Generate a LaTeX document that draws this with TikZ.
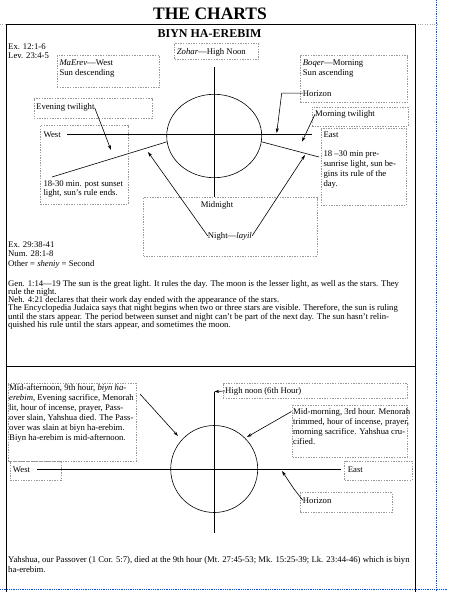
\documentclass[tikz,border=0pt]{standalone}
\usepackage{fontspec}
\setmainfont{Liberation Serif}
\usetikzlibrary{arrows.meta,shapes.geometric}

\begin{document}
\begin{tikzpicture}[x=1pt, y=-1pt, >={Stealth[length=5pt,width=3.2pt]},
    txt/.style={inner sep=0pt, font=\fontsize{8.7}{10.2}\selectfont, align=left},
    dbox/.style={draw=gray!80, dash pattern=on 1.4pt off 1.2pt, line width=0.5pt, inner sep=0pt, anchor=north west},
    axis/.style={line width=0.8pt},
    arr/.style={->, line width=0.6pt},
    conn/.style={line width=0.6pt},
    frame/.style={line width=0.9pt}]
    \useasboundingbox[fill=white] (0,0) rectangle (448,592);

    % page guides
    \draw[gray!70, dotted] (0,24.3) -- (437,24.3);
    \draw[blue!70!cyan, densely dotted, line width=0.8pt] (436.5,0) -- (436.5,592);
    \draw[blue!70!cyan, densely dotted, line width=0.8pt] (0,589) -- (448,589);

    % frame
    \draw[frame] (6,592) -- (6,24.3) -- (415,24.3) -- (415,592);
    \draw[frame] (6,366) -- (415,366);

    \node[inner sep=0pt, font=\fontsize{17.5}{20}\selectfont\bfseries, anchor=base] (title) at (210,19) {THE CHARTS};
    \node[inner sep=0pt, font=\fontsize{12}{14}\selectfont\bfseries, anchor=base] (sub1) at (209.5,37.3) {BIYN HA-EREBIM};

    % upper chart: boxes
    \node[dbox, minimum width=84, minimum height=16] (zohbox) at (174.3,43.3) {};
    \node[dbox, minimum width=102.6, minimum height=32] (erevbox) at (56.7,55.3) {};
    \node[dbox, minimum width=107.3, minimum height=46.7] (boqbox) at (300,55.3) {};
    \node[dbox, minimum width=118, minimum height=20] (evebox) at (33.7,98.3) {};
    \node[dbox, minimum width=96, minimum height=19] (mtwbox) at (312,106.5) {};
    \node[dbox, minimum width=87.7, minimum height=79] (westbox) at (40,125.3) {};
    \node[dbox, minimum width=85.5, minimum height=77.3] (eastbox) at (320.5,127.7) {};
    \node[dbox, minimum width=173.4, minimum height=58.4] (midbox) at (143.3,197.3) {};

    % upper chart: texts
    \node[txt, anchor=north west, font=\fontsize{8.7}{9}\selectfont] (refs1) at (8,43.3) {Ex. 12:1-6\\Lev. 23:4-5};
    \node[txt, anchor=base west] (zohar) at (176.7,54) {\textit{Zohar}—High Noon};
    \node[txt, anchor=north west, font=\fontsize{8.7}{10.4}\selectfont] (erev) at (59.3,59.3) {\textit{MaErev}—West\\Sun descending};
    \node[txt, anchor=north west, font=\fontsize{8.7}{10.4}\selectfont] (boqer) at (302.7,59.3) {\textit{Boqer}—Morning\\Sun ascending};
    \node[txt, anchor=base west] (hor1) at (302.7,96) {Horizon};
    \node[txt, anchor=base west] (eve) at (36,109.7) {Evening twilight};
    \node[txt, anchor=base west] (mtw) at (315,116.3) {Morning twilight};
    \node[txt, anchor=base west] (west1) at (43.3,137.3) {West};
    \node[txt, anchor=north west, font=\fontsize{8.7}{9.4}\selectfont] (post) at (43.3,180.3) {18-30 min. post sunset\\light, sun's rule ends.};
    \node[txt, anchor=base west] (east1) at (323.3,137.3) {East};
    \node[txt, anchor=north west, font=\fontsize{8.7}{10}\selectfont] (pre) at (323.3,151) {18 –30 min pre-\\sunrise light, sun be-\\gins its rule of the\\day.};
    \node[txt, anchor=base] (midn) at (217,207) {Midnight};
    \node[txt, anchor=base west] (night) at (207.7,238) {Night—\textit{layil}};
    \node[txt, anchor=north west, font=\fontsize{8.7}{9.2}\selectfont] (refs2) at (8,241.7) {Ex. 29:38-41\\Num. 28:1-8\\Other = \textit{sheniy} = Second};
    \node[txt, anchor=north west, font=\fontsize{8.7}{8.2}\selectfont] (para) at (8,280) {Gen. 1:14—19 The sun is the great light. It rules the day. The moon is the lesser light, as well as the stars. They\\rule the night.\\Neh. 4:21 declares that their work day ended with the appearance of the stars.\\The Encyclopedia Judaica says that night begins when two or three stars are visible. Therefore, the sun is ruling\\until the stars appear. The period between sunset and night can't be part of the next day. The sun hasn't relin-\\quished his rule until the stars appear, and sometimes the moon.};

    % upper chart: sun and axes
    \node[draw, ellipse, minimum width=95, minimum height=83.4, line width=0.6pt] (sun1) at (214.2,136) {};
    \coordinate (ntop) at (214.3,67);
    \coordinate (nbot) at (214.3,197.3);
    \coordinate (wend) at (67,134.7);
    \coordinate (eend) at (312,134.7);
    \draw[axis] (ntop) -- (nbot);
    \draw[axis] (wend) -- (eend);
    \coordinate (postend) at (52,177);
    \coordinate (preend) at (319,157);
    \draw[conn] (sun1.187) -- (postend);
    \draw[conn] (sun1.353) -- (preend);

    % upper chart: arrows
    \coordinate (evetip) at (111,150);
    \coordinate (mtwtip) at (302,141.7);
    \coordinate (hortip) at (276.7,133);
    \coordinate (nlt) at (148,152);
    \coordinate (nrt) at (305,155);
    \draw[arr] (eve.east) -- (evetip);
    \draw[arr] (mtw.west) -- (mtwtip);
    \draw[arr] (hor1.west) -- ++(-21,0) -- (hortip);
    \draw[arr] (night.west) -- (nlt);
    \draw[arr] (night.east) -- (nrt);

    % lower chart: boxes
    \node[dbox, minimum width=128, minimum height=78] (aftbox) at (8,382.7) {};
    \node[dbox, minimum width=184.6, minimum height=14.7] (noonbox) at (222.7,383.3) {};
    \node[dbox, minimum width=115, minimum height=51.7] (mmbox) at (292.3,405) {};
    \node[dbox, minimum width=50.7, minimum height=19.3] (westbox2) at (10,460.7) {};
    \node[dbox, minimum width=67.4, minimum height=19.3] (eastbox2) at (344.3,460.7) {};
    \node[dbox, minimum width=91.7, minimum height=20] (horbox2) at (300,492.3) {};

    % lower chart: texts
    \node[txt, anchor=north west, font=\fontsize{8.7}{10}\selectfont] (aft) at (9,383.7) {Mid-afternoon, 9th hour, \textit{biyn ha-}\\\textit{erebim}, Evening sacrifice, Menorah\\lit, hour of incense, prayer, Pass-\\over slain, Yahshua died. The Pass-\\over was slain at biyn ha-erebim.\\Biyn ha-erebim is mid-afternoon.};
    \node[txt, anchor=base west] (noon) at (225,393) {High noon (6th Hour)};
    \node[txt, anchor=north west, font=\fontsize{8.7}{9.8}\selectfont] (mm) at (293,408.7) {Mid-morning, 3rd hour. Menorah\\trimmed, hour of incense, prayer,\\morning sacrifice. Yahshua cru-\\cified.};
    \node[txt, anchor=base west] (west2) at (12.7,472) {West};
    \node[txt, anchor=base west] (east2) at (347.7,472) {East};
    \node[txt, anchor=base west] (hor2) at (302.7,503) {Horizon};
    \node[txt, anchor=north west, font=\fontsize{8.7}{9.7}\selectfont] (yah) at (8,556.3) {Yahshua, our Passover (1 Cor. 5:7), died at the 9th hour (Mt. 27:45-53; Mk. 15:25-39; Lk. 23:44-46) which is biyn\\ha-erebim.};

    % lower chart: sun and axes
    \node[draw, circle, minimum size=87, line width=0.6pt] (sun2) at (214.2,469) {};
    \coordinate (ntop2) at (214.3,391.7);
    \coordinate (nbot2) at (214.3,532.7);
    \coordinate (wend2) at (37.3,469.3);
    \coordinate (eend2) at (340.7,469.3);
    \draw[axis] (nbot2) -- (ntop2);
    \draw[axis] (wend2) -- (eend2);

    % lower chart: arrows
    \coordinate (aftstart) at (140,394);
    \coordinate (afttip) at (178,436);
    \coordinate (mmstart) at (291.5,411.5);
    \coordinate (mmtip) at (247,437);
    \coordinate (h2tip) at (282,471);
    \draw[arr] (noon.west) -- (ntop2);
    \draw[arr] (aftstart) -- (afttip);
    \draw[arr] (mmstart) -- (mmtip);
    \draw[arr] (hor2.west) -- (294,489) -- (h2tip);
\end{tikzpicture}
\end{document}
